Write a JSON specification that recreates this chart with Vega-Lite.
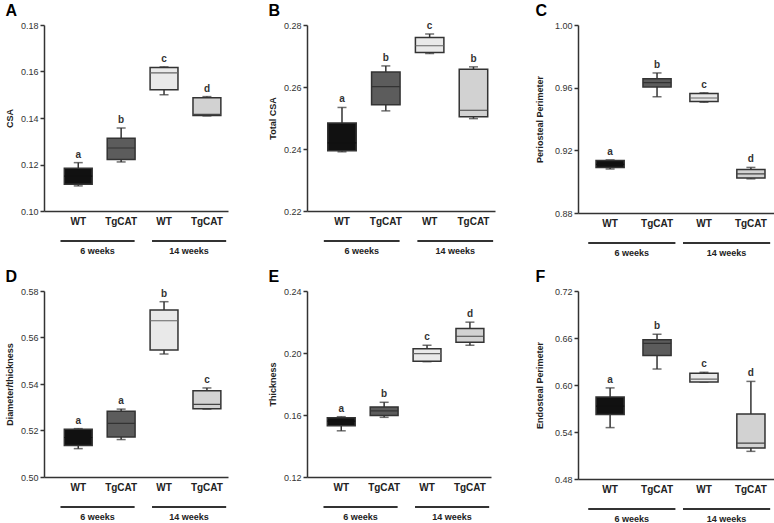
{
  "$schema": "https://vega.github.io/schema/vega-lite/v6.json",
  "padding": {"left": 5, "top": 2, "right": 3, "bottom": 0},
  "datasets": {
    "boxes": [
      {"panel": "A", "cond": "WT_6", "lo": 0.1108, "q1": 0.1115, "med": 0.1150, "q3": 0.1184, "hi": 0.1208, "letter": "a"},
      {"panel": "A", "cond": "TgCAT_6", "lo": 0.1211, "q1": 0.1222, "med": 0.1271, "q3": 0.1313, "hi": 0.1357, "letter": "b"},
      {"panel": "A", "cond": "WT_14", "lo": 0.1500, "q1": 0.1522, "med": 0.1594, "q3": 0.1617, "hi": 0.1620, "letter": "c"},
      {"panel": "A", "cond": "TgCAT_14", "lo": 0.1409, "q1": 0.1411, "med": 0.1416, "q3": 0.1487, "hi": 0.1492, "letter": "d"},
      {"panel": "B", "cond": "WT_6", "lo": 0.2391, "q1": 0.2394, "med": 0.2420, "q3": 0.2484, "hi": 0.2534, "letter": "a"},
      {"panel": "B", "cond": "TgCAT_6", "lo": 0.2523, "q1": 0.2543, "med": 0.2601, "q3": 0.2648, "hi": 0.2668, "letter": "b"},
      {"panel": "B", "cond": "WT_14", "lo": 0.2708, "q1": 0.2711, "med": 0.2733, "q3": 0.2760, "hi": 0.2771, "letter": "c"},
      {"panel": "B", "cond": "TgCAT_14", "lo": 0.2498, "q1": 0.2504, "med": 0.2525, "q3": 0.2657, "hi": 0.2665, "letter": "b"},
      {"panel": "C", "cond": "WT_6", "lo": 0.9081, "q1": 0.9091, "med": 0.9110, "q3": 0.9135, "hi": 0.9139, "letter": "a"},
      {"panel": "C", "cond": "TgCAT_6", "lo": 0.9542, "q1": 0.9605, "med": 0.9632, "q3": 0.9657, "hi": 0.9694, "letter": "b"},
      {"panel": "C", "cond": "WT_14", "lo": 0.9507, "q1": 0.9511, "med": 0.9534, "q3": 0.9563, "hi": 0.9567, "letter": "c"},
      {"panel": "C", "cond": "TgCAT_14", "lo": 0.9018, "q1": 0.9023, "med": 0.9050, "q3": 0.9077, "hi": 0.9091, "letter": "d"},
      {"panel": "D", "cond": "WT_6", "lo": 0.5122, "q1": 0.5136, "med": 0.5170, "q3": 0.5205, "hi": 0.5208, "letter": "a"},
      {"panel": "D", "cond": "TgCAT_6", "lo": 0.5161, "q1": 0.5172, "med": 0.5231, "q3": 0.5283, "hi": 0.5292, "letter": "a"},
      {"panel": "D", "cond": "WT_14", "lo": 0.5529, "q1": 0.5546, "med": 0.5672, "q3": 0.5718, "hi": 0.5754, "letter": "b"},
      {"panel": "D", "cond": "TgCAT_14", "lo": 0.5292, "q1": 0.5294, "med": 0.5312, "q3": 0.5371, "hi": 0.5383, "letter": "c"},
      {"panel": "E", "cond": "WT_6", "lo": 0.1498, "q1": 0.1531, "med": 0.1560, "q3": 0.1583, "hi": 0.1589, "letter": "a"},
      {"panel": "E", "cond": "TgCAT_6", "lo": 0.1585, "q1": 0.1596, "med": 0.1626, "q3": 0.1652, "hi": 0.1682, "letter": "b"},
      {"panel": "E", "cond": "WT_14", "lo": 0.1944, "q1": 0.1946, "med": 0.1996, "q3": 0.2028, "hi": 0.2050, "letter": "c"},
      {"panel": "E", "cond": "TgCAT_14", "lo": 0.2050, "q1": 0.2069, "med": 0.2108, "q3": 0.2158, "hi": 0.2199, "letter": "d"},
      {"panel": "F", "cond": "WT_6", "lo": 0.5456, "q1": 0.5622, "med": 0.5730, "q3": 0.5847, "hi": 0.5963, "letter": "a"},
      {"panel": "F", "cond": "TgCAT_6", "lo": 0.6204, "q1": 0.6378, "med": 0.6532, "q3": 0.6577, "hi": 0.6648, "letter": "b"},
      {"panel": "F", "cond": "WT_14", "lo": 0.6038, "q1": 0.6038, "med": 0.6075, "q3": 0.6150, "hi": 0.6162, "letter": "c"},
      {"panel": "F", "cond": "TgCAT_14", "lo": 0.5153, "q1": 0.5195, "med": 0.5257, "q3": 0.5630, "hi": 0.6046, "letter": "d"}
    ],
    "weeks": [{"week": "6 weeks"}, {"week": "14 weeks"}]
  },
  "concat": [
    {"vconcat": [
      {"width": 184, "height": 186, "title": "A",
       "data": {"name": "boxes"}, "transform": [{"filter": "datum.panel === 'A'"}],
       "encoding": {"x": {"field": "cond", "type": "nominal", "sort": ["WT_6", "TgCAT_6", "WT_14", "TgCAT_14"], "scale": {"paddingInner": 0.35, "paddingOuter": 0.32, "align": 0.74}, "axis": {"labelExpr": "split(datum.value, '_')[0]", "title": null}}},
       "layer": [
         {"mark": {"type": "rule", "color": "#333", "strokeWidth": 1.5}, "encoding": {"y": {"field": "lo", "type": "quantitative", "scale": {"domain": [0.10, 0.18], "nice": false, "zero": false}, "axis": {"values": [0.10, 0.12, 0.14, 0.16, 0.18], "format": ".2f", "title": "CSA"}}, "y2": {"field": "hi"}}},
         {"mark": {"type": "tick", "color": "#333", "size": 9, "thickness": 1.5}, "encoding": {"y": {"field": "lo", "type": "quantitative"}}},
         {"mark": {"type": "tick", "color": "#333", "size": 9, "thickness": 1.5}, "encoding": {"y": {"field": "hi", "type": "quantitative"}}},
         {"mark": {"type": "bar", "stroke": "#333", "strokeWidth": 1.5}, "encoding": {"y": {"field": "q1", "type": "quantitative"}, "y2": {"field": "q3"}, "fill": {"field": "cond", "type": "nominal", "scale": {"domain": ["WT_6", "TgCAT_6", "WT_14", "TgCAT_14"], "range": ["#111111", "#5c5c5c", "#e9e9e9", "#d2d2d2"]}, "legend": null}}},
         {"mark": {"type": "bar", "fill": null, "strokeWidth": 1.2}, "encoding": {"y": {"field": "med", "type": "quantitative"}, "y2": {"field": "med"}, "stroke": {"field": "cond", "type": "nominal", "scale": {"domain": ["WT_6", "TgCAT_6", "WT_14", "TgCAT_14"], "range": ["#111111", "#333333", "#666666", "#444444"]}, "legend": null}}},
         {"mark": {"type": "text", "fontWeight": "bold", "fontSize": 10, "color": "#333", "baseline": "bottom", "dy": -3}, "encoding": {"y": {"field": "hi", "type": "quantitative"}, "text": {"field": "letter"}}}
       ]},
      {"width": 184, "height": 2, "data": {"name": "weeks"}, "mark": {"type": "bar", "fill": "#333"},
       "encoding": {"x": {"field": "week", "type": "nominal", "sort": ["6 weeks", "14 weeks"], "scale": {"paddingInner": 0.19, "paddingOuter": 0.1, "align": 0.9}, "axis": {"domain": false, "labelFontSize": 9, "labelPadding": 4, "title": null}}}}
    ], "spacing": 14},
    {"vconcat": [
      {"width": 188, "height": 186, "title": "B",
       "data": {"name": "boxes"}, "transform": [{"filter": "datum.panel === 'B'"}],
       "encoding": {"x": {"field": "cond", "type": "nominal", "sort": ["WT_6", "TgCAT_6", "WT_14", "TgCAT_14"], "scale": {"paddingInner": 0.35, "paddingOuter": 0.32, "align": 0.74}, "axis": {"labelExpr": "split(datum.value, '_')[0]", "title": null}}},
       "layer": [
         {"mark": {"type": "rule", "color": "#333", "strokeWidth": 1.5}, "encoding": {"y": {"field": "lo", "type": "quantitative", "scale": {"domain": [0.22, 0.28], "nice": false, "zero": false}, "axis": {"values": [0.22, 0.24, 0.26, 0.28], "format": ".2f", "title": "Total CSA"}}, "y2": {"field": "hi"}}},
         {"mark": {"type": "tick", "color": "#333", "size": 9, "thickness": 1.5}, "encoding": {"y": {"field": "lo", "type": "quantitative"}}},
         {"mark": {"type": "tick", "color": "#333", "size": 9, "thickness": 1.5}, "encoding": {"y": {"field": "hi", "type": "quantitative"}}},
         {"mark": {"type": "bar", "stroke": "#333", "strokeWidth": 1.5}, "encoding": {"y": {"field": "q1", "type": "quantitative"}, "y2": {"field": "q3"}, "fill": {"field": "cond", "type": "nominal", "scale": {"domain": ["WT_6", "TgCAT_6", "WT_14", "TgCAT_14"], "range": ["#111111", "#5c5c5c", "#e9e9e9", "#d2d2d2"]}, "legend": null}}},
         {"mark": {"type": "bar", "fill": null, "strokeWidth": 1.2}, "encoding": {"y": {"field": "med", "type": "quantitative"}, "y2": {"field": "med"}, "stroke": {"field": "cond", "type": "nominal", "scale": {"domain": ["WT_6", "TgCAT_6", "WT_14", "TgCAT_14"], "range": ["#111111", "#333333", "#666666", "#444444"]}, "legend": null}}},
         {"mark": {"type": "text", "fontWeight": "bold", "fontSize": 10, "color": "#333", "baseline": "bottom", "dy": -3}, "encoding": {"y": {"field": "hi", "type": "quantitative"}, "text": {"field": "letter"}}}
       ]},
      {"width": 188, "height": 2, "data": {"name": "weeks"}, "mark": {"type": "bar", "fill": "#333"},
       "encoding": {"x": {"field": "week", "type": "nominal", "sort": ["6 weeks", "14 weeks"], "scale": {"paddingInner": 0.19, "paddingOuter": 0.1, "align": 0.9}, "axis": {"domain": false, "labelFontSize": 9, "labelPadding": 4, "title": null}}}}
    ], "spacing": 14},
    {"vconcat": [
      {"width": 199, "height": 188, "title": "C",
       "data": {"name": "boxes"}, "transform": [{"filter": "datum.panel === 'C'"}],
       "encoding": {"x": {"field": "cond", "type": "nominal", "sort": ["WT_6", "TgCAT_6", "WT_14", "TgCAT_14"], "scale": {"paddingInner": 0.4, "paddingOuter": 0.32, "align": 0.6}, "axis": {"labelExpr": "split(datum.value, '_')[0]", "title": null}}},
       "layer": [
         {"mark": {"type": "rule", "color": "#333", "strokeWidth": 1.5}, "encoding": {"y": {"field": "lo", "type": "quantitative", "scale": {"domain": [0.88, 1.00], "nice": false, "zero": false}, "axis": {"values": [0.88, 0.92, 0.96, 1.00], "format": ".2f", "title": "Periosteal Perimeter", "titlePadding": 10}}, "y2": {"field": "hi"}}},
         {"mark": {"type": "tick", "color": "#333", "size": 9, "thickness": 1.5}, "encoding": {"y": {"field": "lo", "type": "quantitative"}}},
         {"mark": {"type": "tick", "color": "#333", "size": 9, "thickness": 1.5}, "encoding": {"y": {"field": "hi", "type": "quantitative"}}},
         {"mark": {"type": "bar", "stroke": "#333", "strokeWidth": 1.5}, "encoding": {"y": {"field": "q1", "type": "quantitative"}, "y2": {"field": "q3"}, "fill": {"field": "cond", "type": "nominal", "scale": {"domain": ["WT_6", "TgCAT_6", "WT_14", "TgCAT_14"], "range": ["#111111", "#5c5c5c", "#e9e9e9", "#d2d2d2"]}, "legend": null}}},
         {"mark": {"type": "bar", "fill": null, "strokeWidth": 1.2}, "encoding": {"y": {"field": "med", "type": "quantitative"}, "y2": {"field": "med"}, "stroke": {"field": "cond", "type": "nominal", "scale": {"domain": ["WT_6", "TgCAT_6", "WT_14", "TgCAT_14"], "range": ["#111111", "#333333", "#666666", "#444444"]}, "legend": null}}},
         {"mark": {"type": "text", "fontWeight": "bold", "fontSize": 10, "color": "#333", "baseline": "bottom", "dy": -3}, "encoding": {"y": {"field": "hi", "type": "quantitative"}, "text": {"field": "letter"}}}
       ]},
      {"width": 199, "height": 2, "data": {"name": "weeks"}, "mark": {"type": "bar", "fill": "#333"},
       "encoding": {"x": {"field": "week", "type": "nominal", "sort": ["6 weeks", "14 weeks"], "scale": {"paddingInner": 0.08, "paddingOuter": 0.09, "align": 0.6}, "axis": {"domain": false, "labelFontSize": 9, "labelPadding": 4, "title": null}}}}
    ], "spacing": 14},
    {"vconcat": [
      {"width": 184, "height": 186, "title": "D",
       "data": {"name": "boxes"}, "transform": [{"filter": "datum.panel === 'D'"}],
       "encoding": {"x": {"field": "cond", "type": "nominal", "sort": ["WT_6", "TgCAT_6", "WT_14", "TgCAT_14"], "scale": {"paddingInner": 0.35, "paddingOuter": 0.32, "align": 0.74}, "axis": {"labelExpr": "split(datum.value, '_')[0]", "title": null}}},
       "layer": [
         {"mark": {"type": "rule", "color": "#333", "strokeWidth": 1.5}, "encoding": {"y": {"field": "lo", "type": "quantitative", "scale": {"domain": [0.50, 0.58], "nice": false, "zero": false}, "axis": {"values": [0.50, 0.52, 0.54, 0.56, 0.58], "format": ".2f", "title": "Diameter/thickness"}}, "y2": {"field": "hi"}}},
         {"mark": {"type": "tick", "color": "#333", "size": 9, "thickness": 1.5}, "encoding": {"y": {"field": "lo", "type": "quantitative"}}},
         {"mark": {"type": "tick", "color": "#333", "size": 9, "thickness": 1.5}, "encoding": {"y": {"field": "hi", "type": "quantitative"}}},
         {"mark": {"type": "bar", "stroke": "#333", "strokeWidth": 1.5}, "encoding": {"y": {"field": "q1", "type": "quantitative"}, "y2": {"field": "q3"}, "fill": {"field": "cond", "type": "nominal", "scale": {"domain": ["WT_6", "TgCAT_6", "WT_14", "TgCAT_14"], "range": ["#111111", "#5c5c5c", "#e9e9e9", "#d2d2d2"]}, "legend": null}}},
         {"mark": {"type": "bar", "fill": null, "strokeWidth": 1.2}, "encoding": {"y": {"field": "med", "type": "quantitative"}, "y2": {"field": "med"}, "stroke": {"field": "cond", "type": "nominal", "scale": {"domain": ["WT_6", "TgCAT_6", "WT_14", "TgCAT_14"], "range": ["#111111", "#333333", "#666666", "#444444"]}, "legend": null}}},
         {"mark": {"type": "text", "fontWeight": "bold", "fontSize": 10, "color": "#333", "baseline": "bottom", "dy": -3}, "encoding": {"y": {"field": "hi", "type": "quantitative"}, "text": {"field": "letter"}}}
       ]},
      {"width": 184, "height": 2, "data": {"name": "weeks"}, "mark": {"type": "bar", "fill": "#333"},
       "encoding": {"x": {"field": "week", "type": "nominal", "sort": ["6 weeks", "14 weeks"], "scale": {"paddingInner": 0.19, "paddingOuter": 0.1, "align": 0.9}, "axis": {"domain": false, "labelFontSize": 9, "labelPadding": 4, "title": null}}}}
    ], "spacing": 14},
    {"vconcat": [
      {"width": 184, "height": 186, "title": "E",
       "data": {"name": "boxes"}, "transform": [{"filter": "datum.panel === 'E'"}],
       "encoding": {"x": {"field": "cond", "type": "nominal", "sort": ["WT_6", "TgCAT_6", "WT_14", "TgCAT_14"], "scale": {"paddingInner": 0.35, "paddingOuter": 0.32, "align": 0.74}, "axis": {"labelExpr": "split(datum.value, '_')[0]", "title": null}}},
       "layer": [
         {"mark": {"type": "rule", "color": "#333", "strokeWidth": 1.5}, "encoding": {"y": {"field": "lo", "type": "quantitative", "scale": {"domain": [0.12, 0.24], "nice": false, "zero": false}, "axis": {"values": [0.12, 0.16, 0.20, 0.24], "format": ".2f", "title": "Thickness"}}, "y2": {"field": "hi"}}},
         {"mark": {"type": "tick", "color": "#333", "size": 9, "thickness": 1.5}, "encoding": {"y": {"field": "lo", "type": "quantitative"}}},
         {"mark": {"type": "tick", "color": "#333", "size": 9, "thickness": 1.5}, "encoding": {"y": {"field": "hi", "type": "quantitative"}}},
         {"mark": {"type": "bar", "stroke": "#333", "strokeWidth": 1.5}, "encoding": {"y": {"field": "q1", "type": "quantitative"}, "y2": {"field": "q3"}, "fill": {"field": "cond", "type": "nominal", "scale": {"domain": ["WT_6", "TgCAT_6", "WT_14", "TgCAT_14"], "range": ["#111111", "#5c5c5c", "#e9e9e9", "#d2d2d2"]}, "legend": null}}},
         {"mark": {"type": "bar", "fill": null, "strokeWidth": 1.2}, "encoding": {"y": {"field": "med", "type": "quantitative"}, "y2": {"field": "med"}, "stroke": {"field": "cond", "type": "nominal", "scale": {"domain": ["WT_6", "TgCAT_6", "WT_14", "TgCAT_14"], "range": ["#111111", "#333333", "#666666", "#444444"]}, "legend": null}}},
         {"mark": {"type": "text", "fontWeight": "bold", "fontSize": 10, "color": "#333", "baseline": "bottom", "dy": -3}, "encoding": {"y": {"field": "hi", "type": "quantitative"}, "text": {"field": "letter"}}}
       ]},
      {"width": 184, "height": 2, "data": {"name": "weeks"}, "mark": {"type": "bar", "fill": "#333"},
       "encoding": {"x": {"field": "week", "type": "nominal", "sort": ["6 weeks", "14 weeks"], "scale": {"paddingInner": 0.19, "paddingOuter": 0.1, "align": 0.9}, "axis": {"domain": false, "labelFontSize": 9, "labelPadding": 4, "title": null}}}}
    ], "spacing": 14},
    {"vconcat": [
      {"width": 199, "height": 188, "title": "F",
       "data": {"name": "boxes"}, "transform": [{"filter": "datum.panel === 'F'"}],
       "encoding": {"x": {"field": "cond", "type": "nominal", "sort": ["WT_6", "TgCAT_6", "WT_14", "TgCAT_14"], "scale": {"paddingInner": 0.4, "paddingOuter": 0.32, "align": 0.6}, "axis": {"labelExpr": "split(datum.value, '_')[0]", "title": null}}},
       "layer": [
         {"mark": {"type": "rule", "color": "#333", "strokeWidth": 1.5}, "encoding": {"y": {"field": "lo", "type": "quantitative", "scale": {"domain": [0.48, 0.72], "nice": false, "zero": false}, "axis": {"values": [0.48, 0.54, 0.60, 0.66, 0.72], "format": ".2f", "title": "Endosteal Perimeter", "titlePadding": 10}}, "y2": {"field": "hi"}}},
         {"mark": {"type": "tick", "color": "#333", "size": 9, "thickness": 1.5}, "encoding": {"y": {"field": "lo", "type": "quantitative"}}},
         {"mark": {"type": "tick", "color": "#333", "size": 9, "thickness": 1.5}, "encoding": {"y": {"field": "hi", "type": "quantitative"}}},
         {"mark": {"type": "bar", "stroke": "#333", "strokeWidth": 1.5}, "encoding": {"y": {"field": "q1", "type": "quantitative"}, "y2": {"field": "q3"}, "fill": {"field": "cond", "type": "nominal", "scale": {"domain": ["WT_6", "TgCAT_6", "WT_14", "TgCAT_14"], "range": ["#111111", "#5c5c5c", "#e9e9e9", "#d2d2d2"]}, "legend": null}}},
         {"mark": {"type": "bar", "fill": null, "strokeWidth": 1.2}, "encoding": {"y": {"field": "med", "type": "quantitative"}, "y2": {"field": "med"}, "stroke": {"field": "cond", "type": "nominal", "scale": {"domain": ["WT_6", "TgCAT_6", "WT_14", "TgCAT_14"], "range": ["#111111", "#333333", "#666666", "#444444"]}, "legend": null}}},
         {"mark": {"type": "text", "fontWeight": "bold", "fontSize": 10, "color": "#333", "baseline": "bottom", "dy": -3}, "encoding": {"y": {"field": "hi", "type": "quantitative"}, "text": {"field": "letter"}}}
       ]},
      {"width": 199, "height": 2, "data": {"name": "weeks"}, "mark": {"type": "bar", "fill": "#333"},
       "encoding": {"x": {"field": "week", "type": "nominal", "sort": ["6 weeks", "14 weeks"], "scale": {"paddingInner": 0.08, "paddingOuter": 0.09, "align": 0.6}, "axis": {"domain": false, "labelFontSize": 9, "labelPadding": 4, "title": null}}}}
    ], "spacing": 14}
  ],
  "columns": 3,
  "align": "each",
  "spacing": {"row": 12, "column": 40},
  "config": {
    "view": {"stroke": null},
    "font": "Liberation Sans",
    "axis": {"domainColor": "#333", "domainWidth": 1.5, "tickColor": "#333", "labelColor": "#333", "labelFontSize": 9, "titleFontSize": 9, "titleFontWeight": "bold", "titleColor": "#222", "grid": false},
    "axisX": {"ticks": false, "labelAngle": 0, "labelFontWeight": "bold", "labelFontSize": 10, "labelColor": "#222", "labelPadding": 5},
    "axisY": {"tickSize": 4, "labelPadding": 2, "titlePadding": 6, "tickWidth": 1.5},
    "title": {"fontSize": 16, "fontWeight": "bold", "anchor": "start", "frame": "bounds", "offset": 2, "color": "#000"}
  }
}
